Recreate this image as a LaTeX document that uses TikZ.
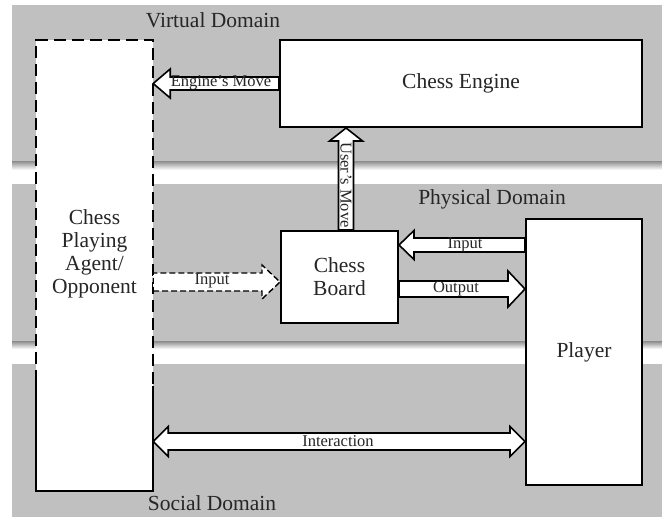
\documentclass[tikz,border=0pt]{standalone}
\usepackage{fontspec}
\setmainfont{Liberation Serif}
\usetikzlibrary{calc}

\definecolor{bandgray}{RGB}{192,192,192}
\def\shaftw{7pt}
\def\headw{15pt}
\def\headl{17pt}

\tikzset{
  shaft/.store in=\shaftw,
  head/.store in=\headw,
  headlen/.store in=\headl,
  fatarrow/.style={draw, line width=1.6pt, fill=white, to path={
      ($(\tikztostart)!\shaftw!-90:(\tikztotarget)$)
      -- ($(\tikztotarget)!\headl!(\tikztostart)!\shaftw!90:(\tikztostart)$)
      -- ($(\tikztotarget)!\headl!(\tikztostart)!\headw!90:(\tikztostart)$)
      -- (\tikztotarget)
      -- ($(\tikztotarget)!\headl!(\tikztostart)!\headw!-90:(\tikztostart)$)
      -- ($(\tikztotarget)!\headl!(\tikztostart)!\shaftw!-90:(\tikztostart)$)
      -- ($(\tikztostart)!\shaftw!90:(\tikztotarget)$)
      -- cycle}},
  dblarrow/.style={draw, line width=1.6pt, fill=white, to path={
      (\tikztostart)
      -- ($(\tikztostart)!\headl!(\tikztotarget)!\headw!-90:(\tikztotarget)$)
      -- ($(\tikztostart)!\headl!(\tikztotarget)!\shaftw!-90:(\tikztotarget)$)
      -- ($(\tikztotarget)!\headl!(\tikztostart)!\shaftw!90:(\tikztostart)$)
      -- ($(\tikztotarget)!\headl!(\tikztostart)!\headw!90:(\tikztostart)$)
      -- (\tikztotarget)
      -- ($(\tikztotarget)!\headl!(\tikztostart)!\headw!-90:(\tikztostart)$)
      -- ($(\tikztotarget)!\headl!(\tikztostart)!\shaftw!-90:(\tikztostart)$)
      -- ($(\tikztostart)!\headl!(\tikztotarget)!\shaftw!90:(\tikztotarget)$)
      -- ($(\tikztostart)!\headl!(\tikztotarget)!\headw!90:(\tikztotarget)$)
      -- cycle}}
}

\begin{document}
\begin{tikzpicture}[
    x=1pt, y=-1pt,
    band/.style={fill=bandgray},
    bandshadow/.style={top color=black!40, bottom color=white},
    box/.style={draw, line width=2pt, fill=white, inner sep=0pt},
    bigtext/.style={font=\fontsize{21.5}{23}\selectfont, text=black!85, align=center},
    domainlbl/.style={font=\fontsize{21.5}{23}\selectfont, text=black!85, inner sep=0pt},
    arrowlbl/.style={font=\fontsize{16.5}{18}\selectfont, text=black!85, inner sep=0pt}
  ]
  \useasboundingbox (0,0) rectangle (662,521);

  \fill[band] (12,5) rectangle (662,162);
  \shade[bandshadow] (12,162) rectangle (662,170);
  \fill[band] (12,184) rectangle (662,342);
  \shade[bandshadow] (12,342) rectangle (662,349);
  \fill[band] (12,364) rectangle (662,517);

  \node[domainlbl] (virtual) at (213,20) {Virtual Domain};
  \node[domainlbl] (physical) at (492,199) {Physical Domain};
  \node[domainlbl] (social) at (212,503) {Social Domain};

  \node[fill=white, inner sep=0pt, minimum width=117, minimum height=451] (agent) at (94.5,265.5) {};
  \coordinate (solidleft) at (0,382);
  \coordinate (solidright) at (0,386);
  \draw[line width=2pt, dash pattern=on 12pt off 6pt] (agent.west |- solidleft) -- (agent.north west) -- (agent.north east) -- (agent.east |- solidright);
  \draw[line width=2pt, solid] (agent.west |- solidleft) -- (agent.south west) -- (agent.south east) -- (agent.east |- solidright);
  \node[bigtext] (agenttxt) at (94.5,254) {Chess\\Playing\\Agent/\\Opponent};

  \node[box, bigtext, minimum width=362, minimum height=87] (engine) at (461,83.5) {Chess Engine};
  \node[box, bigtext, minimum width=117, minimum height=92] (board) at (339.5,277) {Chess\\Board};
  \node[box, bigtext, minimum width=116, minimum height=266] (player) at (584,352) {Player};

  \coordinate (umove) at ($(board.north west)!0.555!(board.north east)$);
  \coordinate (inagent) at (0,282);
  \coordinate (inplayer) at (0,245);
  \coordinate (outplayer) at (0,289);
  \coordinate (interact) at (0,441.5);

  \draw[fatarrow, shaft=6.5pt, head=14.5pt, headlen=17pt] (engine.west) to (agent.east |- engine.west);
  \draw[fatarrow, shaft=7.5pt, head=16.5pt, headlen=13pt] (umove) to (engine.south -| umove);
  \draw[fatarrow, shaft=9pt, head=17pt, headlen=18pt, line width=1.4pt, dash pattern=on 6pt off 3pt] (agent.east |- inagent) to (board.west |- inagent);
  \draw[fatarrow, shaft=7pt, head=14.5pt, headlen=15pt] (player.west |- inplayer) to (board.east |- inplayer);
  \draw[fatarrow, shaft=8pt, head=18pt, headlen=17pt] (board.east |- outplayer) to (player.west |- outplayer);
  \draw[dblarrow, shaft=8.5pt, head=15pt, headlen=15pt] (agent.east |- interact) to (player.west |- interact);

  \node[arrowlbl] (emovelbl) at (221,83) {Engine’s Move};
  \node[arrowlbl, rotate=-90] (umovelbl) at (346,185) {User’s Move};
  \node[arrowlbl] (inagentlbl) at (212,281) {Input};
  \node[arrowlbl] (inplayerlbl) at (465,245) {Input};
  \node[arrowlbl] (outlbl) at (456,289) {Output};
  \node[arrowlbl] (interactlbl) at (338,441) {Interaction};
\end{tikzpicture}
\end{document}
